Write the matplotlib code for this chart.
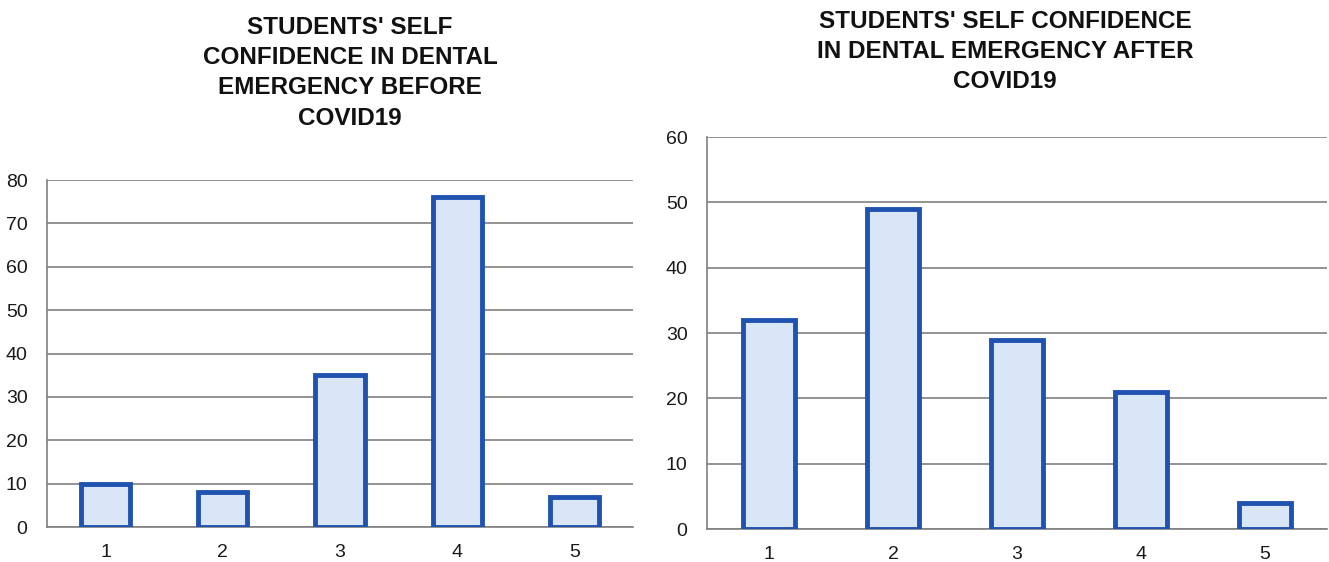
import matplotlib
matplotlib.use('Agg')
import matplotlib.pyplot as plt
from matplotlib import font_manager

categories = ['1', '2', '3', '4', '5']
before_values = [10, 8, 35, 76, 7]
after_values = [32, 49, 29, 21, 4]
before_title = "STUDENTS' SELF\nCONFIDENCE IN DENTAL\nEMERGENCY BEFORE\nCOVID19"
after_title = "STUDENTS' SELF CONFIDENCE\nIN DENTAL EMERGENCY AFTER\nCOVID19"
before_ticks = [0, 10, 20, 30, 40, 50, 60, 70, 80]
after_ticks = [0, 10, 20, 30, 40, 50, 60]

BAR_FILL = '#d9e6f8'
BAR_EDGE = '#2052b0'
GRID = '#808080'

names = {f.name for f in font_manager.fontManager.ttflist}
tick_font = 'Liberation Sans Narrow' if 'Liberation Sans Narrow' in names else 'Liberation Sans'

fig = plt.figure(figsize=(13.29, 5.62), dpi=100)
ax1 = fig.add_axes([47 / 1329, 1 - 527 / 562, 586 / 1329, 347 / 562])
ax2 = fig.add_axes([707 / 1329, 1 - 529 / 562, 620 / 1329, 392 / 562])


def draw(ax, values, ticks):
    x = range(len(categories))
    ax.bar(x, values, width=0.42, color=BAR_FILL, edgecolor=BAR_EDGE,
           linewidth=3.5, zorder=3)
    ax.set_xlim(-0.5, len(categories) - 0.5)
    ax.set_ylim(0, ticks[-1])
    ax.set_yticks(ticks)
    ax.set_xticks(list(x))
    ax.set_xticklabels(categories)
    ax.grid(axis='y', color=GRID, linewidth=1.2, zorder=0)
    for s in ['top', 'right']:
        ax.spines[s].set_visible(False)
    for s in ['left', 'bottom']:
        ax.spines[s].set_color(GRID)
        ax.spines[s].set_linewidth(1.2)
    ax.tick_params(length=0, labelsize=14, colors='#1a1a1a')
    ax.tick_params(axis='x', pad=12)
    ax.tick_params(axis='y', pad=14)
    for lab in ax.get_xticklabels() + ax.get_yticklabels():
        lab.set_family(tick_font)


draw(ax1, before_values, before_ticks)
draw(ax2, after_values, after_ticks)

fig.text(350 / 1329, 1 - 16 / 562, before_title, ha='center', va='top',
         fontsize=17.5, fontweight='bold', family='Liberation Sans',
         linespacing=1.4, color='#111111')
fig.text(1005 / 1329, 1 - 10 / 562, after_title, ha='center', va='top',
         fontsize=17.5, fontweight='bold', family='Liberation Sans',
         linespacing=1.4, color='#111111')

fig.savefig('out.png', dpi=100, facecolor='white')
